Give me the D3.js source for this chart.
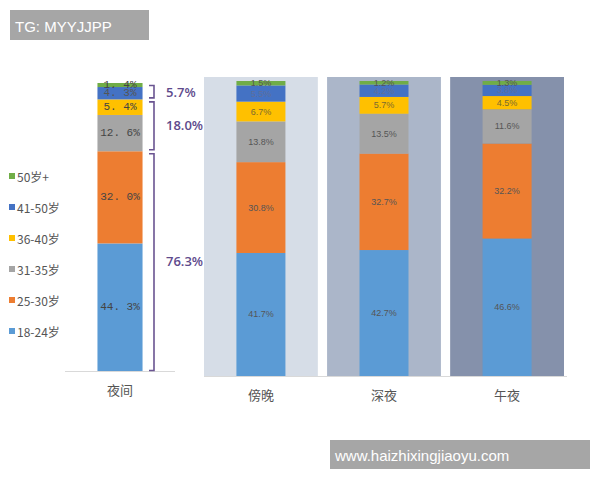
<!DOCTYPE html>
<html><head><meta charset="utf-8">
<script src="https://cdn.jsdelivr.net/npm/d3@7"></script>
<style>body{margin:0;background:#fff;} svg{display:block;}</style>
</head><body>
<svg id="c" width="600" height="480"></svg>
<script>
const categories = ["夜间", "傍晚", "深夜", "午夜"];
const groups = ["18-24岁", "25-30岁", "31-35岁", "36-40岁", "41-50岁", "50岁+"];
const s18_24 = [44.3, 41.7, 42.7, 46.6];
const s25_30 = [32.0, 30.8, 32.7, 32.2];
const s31_35 = [12.6, 13.8, 13.5, 11.6];
const s36_40 = [5.4, 6.7, 5.7, 4.5];
const s41_50 = [4.3, 5.5, 4.2, 3.8];
const s50plus = [1.4, 1.5, 1.2, 1.3];
const bracketLabels = ["5.7%", "18.0%", "76.3%"];
const bracketSpans = [[4, 6], [2, 4], [0, 2]]; // group index ranges
const colors = ["#5b9bd5", "#ed7d31", "#a5a5a5", "#ffc000", "#4472c4", "#70ad47"];
const panelColors = ["#d6dde7", "#abb6c9", "#8591ab"];

const series = [s18_24, s25_30, s31_35, s36_40, s41_50, s50plus];
const rows = categories.map((c, i) => {
  const o = {cat: c};
  groups.forEach((g, k) => o[g] = series[k][i]);
  return o;
});
const stacked = d3.stack().keys(groups)(rows);

const svg = d3.select("#c");

// Left chart
const xL = d3.scaleBand().domain([categories[0]]).range([65, 175]).paddingInner(0).paddingOuter(0.72);
const yL = d3.scaleLinear().domain([0, 100]).range([371, 83]);
// Right chart
const rightCats = categories.slice(1);
const xR = d3.scaleBand().domain(rightCats).range([204, 564]).paddingInner(0.075).paddingOuter(0);
const yR = d3.scaleLinear().domain([0, 100]).range([376, 81]);

// panels
svg.append("g").selectAll("rect").data(rightCats).join("rect")
  .attr("x", d => xR(d)).attr("width", xR.bandwidth())
  .attr("y", 77).attr("height", 376 - 77)
  .attr("fill", (d, i) => panelColors[i]);

// baselines
svg.append("line").attr("x1", 65).attr("x2", 175).attr("y1", 371.5).attr("y2", 371.5).attr("stroke", "#d9d9d9");
svg.append("line").attr("x1", 204).attr("x2", 567).attr("y1", 376.5).attr("y2", 376.5).attr("stroke", "#d9d9d9");

// bars
stacked.forEach((layer, k) => {
  layer.forEach((seg, i) => {
    const isL = i === 0;
    const y = isL ? yL : yR;
    const bw = isL ? xL.bandwidth() : 49;
    const x0 = isL ? xL(categories[i]) : xR(categories[i]) + (xR.bandwidth() - bw) / 2;
    svg.append("rect")
      .attr("x", x0).attr("width", bw)
      .attr("y", y(seg[1])).attr("height", y(seg[0]) - y(seg[1]))
      .attr("fill", colors[k]);
    const v = series[k][i];
    const t = svg.append("text")
      .attr("x", x0 + bw / 2)
      .attr("y", (y(seg[0]) + y(seg[1])) / 2)
      .attr("text-anchor", "middle").attr("dominant-baseline", "central");
    if (isL) {
      t.attr("font-family", "Liberation Mono, DejaVu Sans Mono, monospace").attr("font-size", 11)
        .attr("fill", k === 4 ? "#555" : "#444")
        .text(v.toFixed(1).replace(".", ". ") + "%");
    } else {
      t.attr("font-family", "Liberation Sans, Arial, sans-serif").attr("font-size", 9)
        .attr("fill", k === 4 ? "#5f6f9a" : (k === 3 ? "#7a6a30" : "#555"))
        .text(v.toFixed(1) + "%");
    }
  });
});

// brackets
const leftIdx = 0;
bracketSpans.forEach((sp, j) => {
  const top = yL(stacked[sp[1] - 1][leftIdx][1]) + 2.5;
  const bot = yL(stacked[sp[0]][leftIdx][0]) - (j === 2 ? 0.5 : 1.5);
  const bx = 154;
  svg.append("path")
    .attr("d", `M${bx - 5},${top} H${bx} V${bot} H${bx - 5}`)
    .attr("fill", "none").attr("stroke", "#6a5491").attr("stroke-width", 1.6);
  svg.append("text")
    .attr("x", 166).attr("y", (top + bot) / 2 + (j === 0 ? 0 : -1))
    .attr("dominant-baseline", "central")
    .attr("font-family", "Open Sans, Liberation Sans, Arial, sans-serif").attr("font-size", 13).attr("font-weight", 600)
    .attr("fill", "#5e4a8c")
    .text(bracketLabels[j]);
});

// category labels
svg.append("text").attr("x", xL(categories[0]) + xL.bandwidth() / 2).attr("y", 389)
  .attr("text-anchor", "middle").attr("dominant-baseline", "central")
  .attr("font-family", "Noto Sans CJK SC").attr("font-size", 13).attr("fill", "#555").text(categories[0]);
svg.append("g").selectAll("text").data(rightCats).join("text")
  .attr("x", d => xR(d) + xR.bandwidth() / 2).attr("y", 394)
  .attr("text-anchor", "middle").attr("dominant-baseline", "central")
  .attr("font-family", "Noto Sans CJK SC").attr("font-size", 13).attr("fill", "#555").text(d => d);

// legend
const legendOrder = groups.slice().reverse();
const lg = svg.append("g");
legendOrder.forEach((g, i) => {
  const k = groups.indexOf(g);
  const yy = 176 + i * 31;
  lg.append("rect").attr("x", 9).attr("y", yy - 3).attr("width", 6).attr("height", 6).attr("fill", colors[k]);
  lg.append("text").attr("x", 17).attr("y", yy).attr("dominant-baseline", "central")
    .attr("font-family", "Noto Sans CJK SC").attr("font-size", 12).attr("fill", "#555").text(g);
});

// watermark boxes
svg.append("rect").attr("x", 10).attr("y", 10).attr("width", 139).attr("height", 30).attr("fill", "#a6a6a6");
svg.append("text").attr("x", 15).attr("y", 26).attr("dominant-baseline", "central")
  .attr("font-family", "Liberation Sans, Arial, sans-serif").attr("font-size", 15).attr("fill", "#fff").text("TG: MYYJJPP");
svg.append("rect").attr("x", 330).attr("y", 440).attr("width", 260).attr("height", 29).attr("fill", "#a6a6a6");
svg.append("text").attr("x", 335).attr("y", 455).attr("dominant-baseline", "central")
  .attr("font-family", "Liberation Sans, Arial, sans-serif").attr("font-size", 15).attr("fill", "#fff").text("www.haizhixingjiaoyu.com");
</script>
</body></html>
